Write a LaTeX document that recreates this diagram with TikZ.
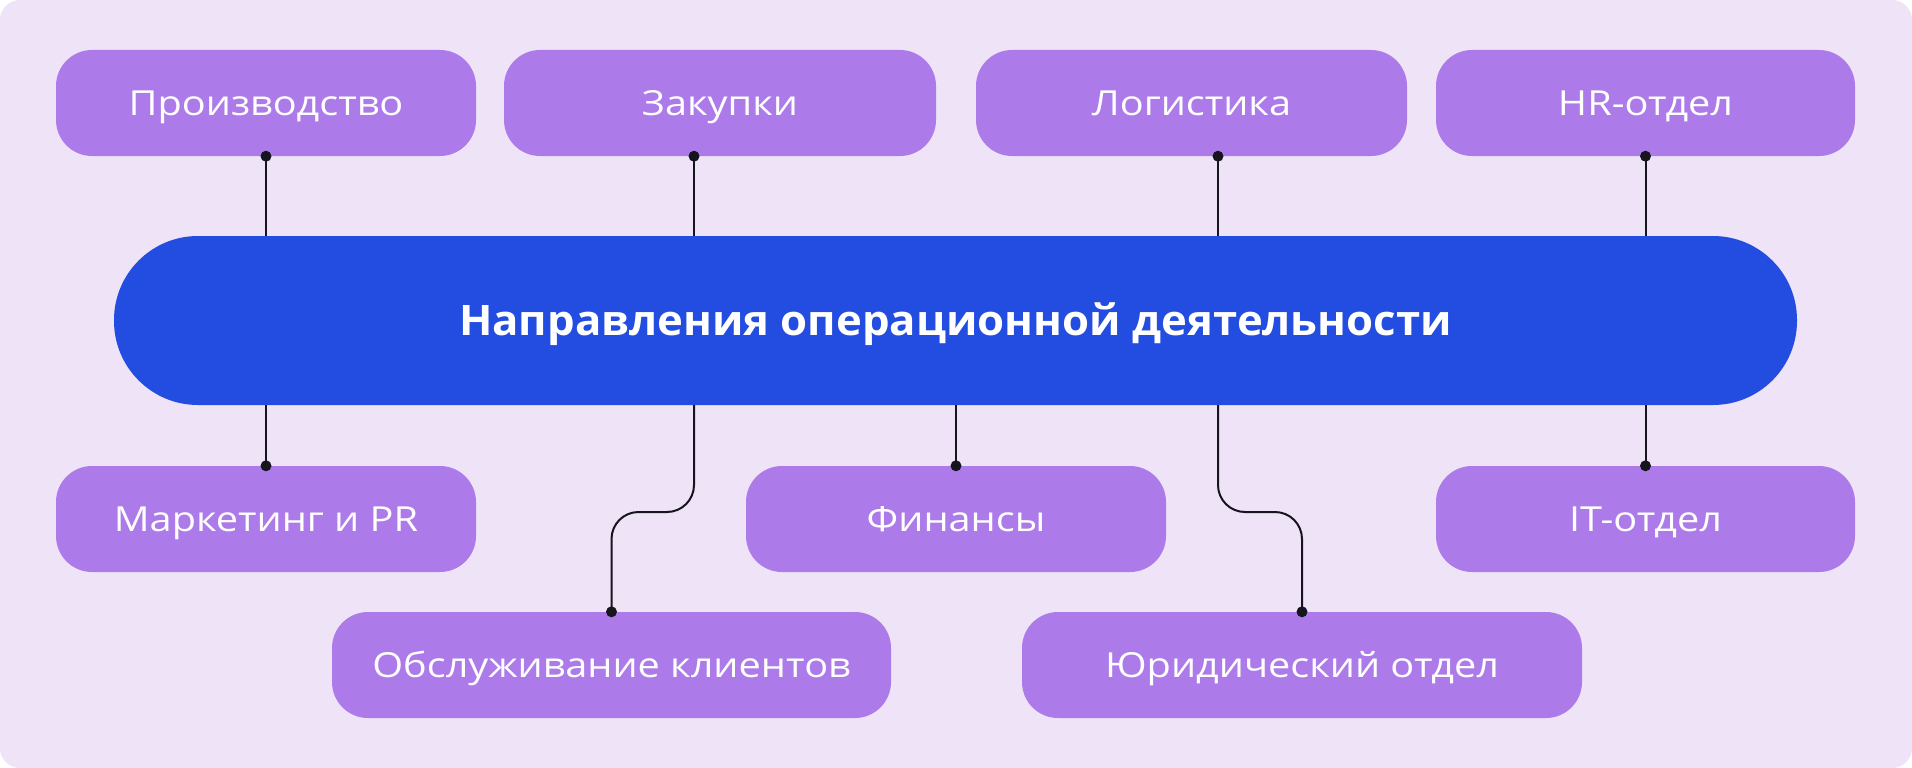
\documentclass[tikz,border=0pt]{standalone}
\usepackage{fontspec}
\setmainfont{Open Sans}[FakeStretch=1.15]
\newfontfamily\hubfont{Open Sans}[FakeStretch=1.04]
\usetikzlibrary{calc}
\definecolor{bgc}{HTML}{EFE3F8}
\definecolor{boxc}{HTML}{AD7BE9}
\definecolor{mainc}{HTML}{234CE0}
\definecolor{linec}{HTML}{16141C}
\begin{document}
\begin{tikzpicture}[x=1pt,y=-1pt,
  box/.style={fill=boxc, rounded corners=36pt, minimum height=106pt, inner sep=0pt,
    text=white, text height=24pt, text depth=0pt, font=\fontsize{34.5}{40}\selectfont},
  hub/.style={fill=mainc, rounded corners=84pt, minimum width=1683pt, minimum height=169pt,
    inner sep=0pt, text=white, text height=30pt, text depth=0pt, font=\hubfont\fontsize{42}{50}\selectfont\bfseries},
  conn/.style={draw=linec, line width=2pt},
  dotc/.style={fill=linec}]
\fill[white] (0,0) rectangle (1912,768);
\useasboundingbox (0,0) rectangle (1912,768);
\fill[bgc, rounded corners=20pt] (0,0) rectangle (1912,768);

\node[hub] (hub) at (955.5,320.5) {Направления операционной деятельности};

\node[box, minimum width=420pt] (prod) at (266,103) {Производство};
\node[box, minimum width=432pt] (zak) at (720,103) {Закупки};
\node[box, minimum width=431pt] (log) at (1191.5,103) {Логистика};
\node[box, minimum width=419pt] (hr) at (1645.5,103) {HR-отдел};

\node[box, minimum width=420pt] (mark) at (266,519) {Маркетинг и PR};
\node[box, minimum width=420pt] (fin) at (956,519) {Финансы};
\node[box, minimum width=419pt] (it) at (1645.5,519) {IT-отдел};

\node[box, minimum width=559pt] (obs) at (611.5,665) {Обслуживание клиентов};
\node[box, minimum width=560pt] (jur) at (1302,665) {Юридический отдел};

\coordinate (zt) at ($(zak.south)+(-26,0)$);
\coordinate (lt) at ($(log.south)+(26.5,0)$);
\coordinate (mid) at (0,512);

\draw[conn] (prod.south) -- (prod.south |- hub.north);
\draw[conn] (zt) -- (zt |- hub.north);
\draw[conn] (lt) -- (lt |- hub.north);
\draw[conn] (hr.south) -- (hr.south |- hub.north);

\draw[conn] (mark.north |- hub.south) -- (mark.north);
\draw[conn] (fin.north |- hub.south) -- (fin.north);
\draw[conn] (it.north |- hub.south) -- (it.north);
\draw[conn, rounded corners=27pt] (zt |- hub.south) -- (zt |- mid) -- (obs.north |- mid) -- (obs.north);
\draw[conn, rounded corners=27pt] (lt |- hub.south) -- (lt |- mid) -- (jur.north |- mid) -- (jur.north);

\foreach \p in {prod.south, zt, lt, hr.south, mark.north, fin.north, it.north, obs.north, jur.north}
  \fill[dotc] (\p) circle (5.5pt);
\end{tikzpicture}
\end{document}
